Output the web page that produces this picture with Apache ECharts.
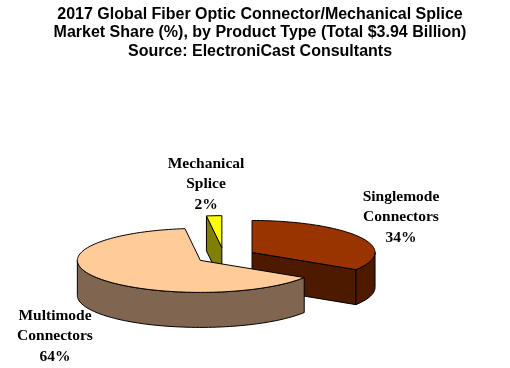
<!DOCTYPE html>
<html>
<head>
<meta charset="utf-8">
<style>html,body{margin:0;padding:0;background:#fff}#c{width:510px;height:368px}</style>
<script src="https://cdn.jsdelivr.net/npm/echarts@6/dist/echarts.min.js"></script>
</head>
<body>
<div id="c"></div>
<script>
const titleLines = [
  '2017 Global Fiber Optic Connector/Mechanical Splice',
  'Market Share (%), by Product Type (Total $3.94 Billion)',
  'Source: ElectroniCast Consultants'
];
const categories = ['Singlemode\nConnectors', 'Mechanical\nSplice', 'Multimode\nConnectors'];
const shares = [34, 2, 64];
const topColors = ['#993300', '#FFFF00', '#FFCC99'];
const wallColors = ['#4D1A00', '#808000', '#806650'];
const explodes = [32, 34, 28];
const labelCenters = [[401, 217], [206, 184], [55, 336]];

const pie = { cx: 224, cy: 256.5, rx: 123, ry: 32, depth: 35, startAngle: -32.4 };
const total = shares.reduce((a, b) => a + b, 0);
const rad = d => d * Math.PI / 180;

function renderSlice(params, api) {
  const i = params.dataIndex;
  const share = api.value(1);
  let a0 = pie.startAngle;
  for (let k = 0; k < i; k++) a0 += shares[k] / total * 360;
  const a1 = a0 + share / total * 360;
  const mid = (a0 + a1) / 2;
  const ox = pie.cx + explodes[i] * Math.cos(rad(mid));
  const oy = pie.cy - explodes[i] * Math.sin(rad(mid)) * pie.ry / pie.rx;
  const rim = a => [ox + pie.rx * Math.cos(rad(a)), oy - pie.ry * Math.sin(rad(a))];
  const arc = (s, e) => {
    const pts = [];
    const n = Math.max(2, Math.ceil((e - s) / 2));
    for (let k = 0; k <= n; k++) pts.push(rim(s + (e - s) * k / n));
    return pts;
  };
  const down = p => [p[0], p[1] + pie.depth];
  const order = Math.round(-Math.sin(rad(mid)) * 100) * 10;
  const children = [];
  const line = { stroke: '#000', lineWidth: 1, lineJoin: 'round' };
  const poly = (points, fill, z) => children.push({
    type: 'polygon', z2: order + z, shape: { points },
    style: Object.assign({ fill }, line)
  });
  // radial cut faces that look toward the viewer
  [[a0, a0 - 90], [a1, a1 + 90]].forEach(([a, normal]) => {
    if (Math.sin(rad(normal)) < -1e-6) {
      const p = rim(a), c = [ox, oy];
      poly([c, p, down(p), down(c)], wallColors[i], 1);
    }
  });
  // outer wall on the lower half of the ellipse
  [[-180, 0], [180, 360]].forEach(([lo, hi]) => {
    const s = Math.max(a0, lo), e = Math.min(a1, hi);
    if (e > s) {
      const pts = arc(s, e);
      poly(pts.concat(pts.slice().reverse().map(down)), wallColors[i], 2);
    }
  });
  poly([[ox, oy]].concat(arc(a0, a1)), topColors[i], 3);
  children.push({
    type: 'text', z2: 5000,
    style: {
      x: labelCenters[i][0], y: labelCenters[i][1],
      text: categories[i] + '\n' + share + '%',
      align: 'center', verticalAlign: 'middle',
      font: 'bold 15.5px "Liberation Serif"', lineHeight: 20.5, fill: '#000'
    }
  });
  return { type: 'group', children };
}

const chart = echarts.init(document.getElementById('c'), null, { renderer: 'canvas' });
chart.setOption({
  animation: false,
  backgroundColor: '#fff',
  title: {
    text: titleLines.join('\n'),
    left: 255, top: 0, textAlign: 'center',
    textStyle: { fontFamily: 'Liberation Sans', fontWeight: 'bold', fontSize: 16, lineHeight: 18.5, color: '#000' }
  },
  series: [{
    type: 'custom',
    coordinateSystem: 'none',
    renderItem: renderSlice,
    silent: true,
    data: shares.map((v, i) => [i, v])
  }]
});
</script>
</body>
</html>
